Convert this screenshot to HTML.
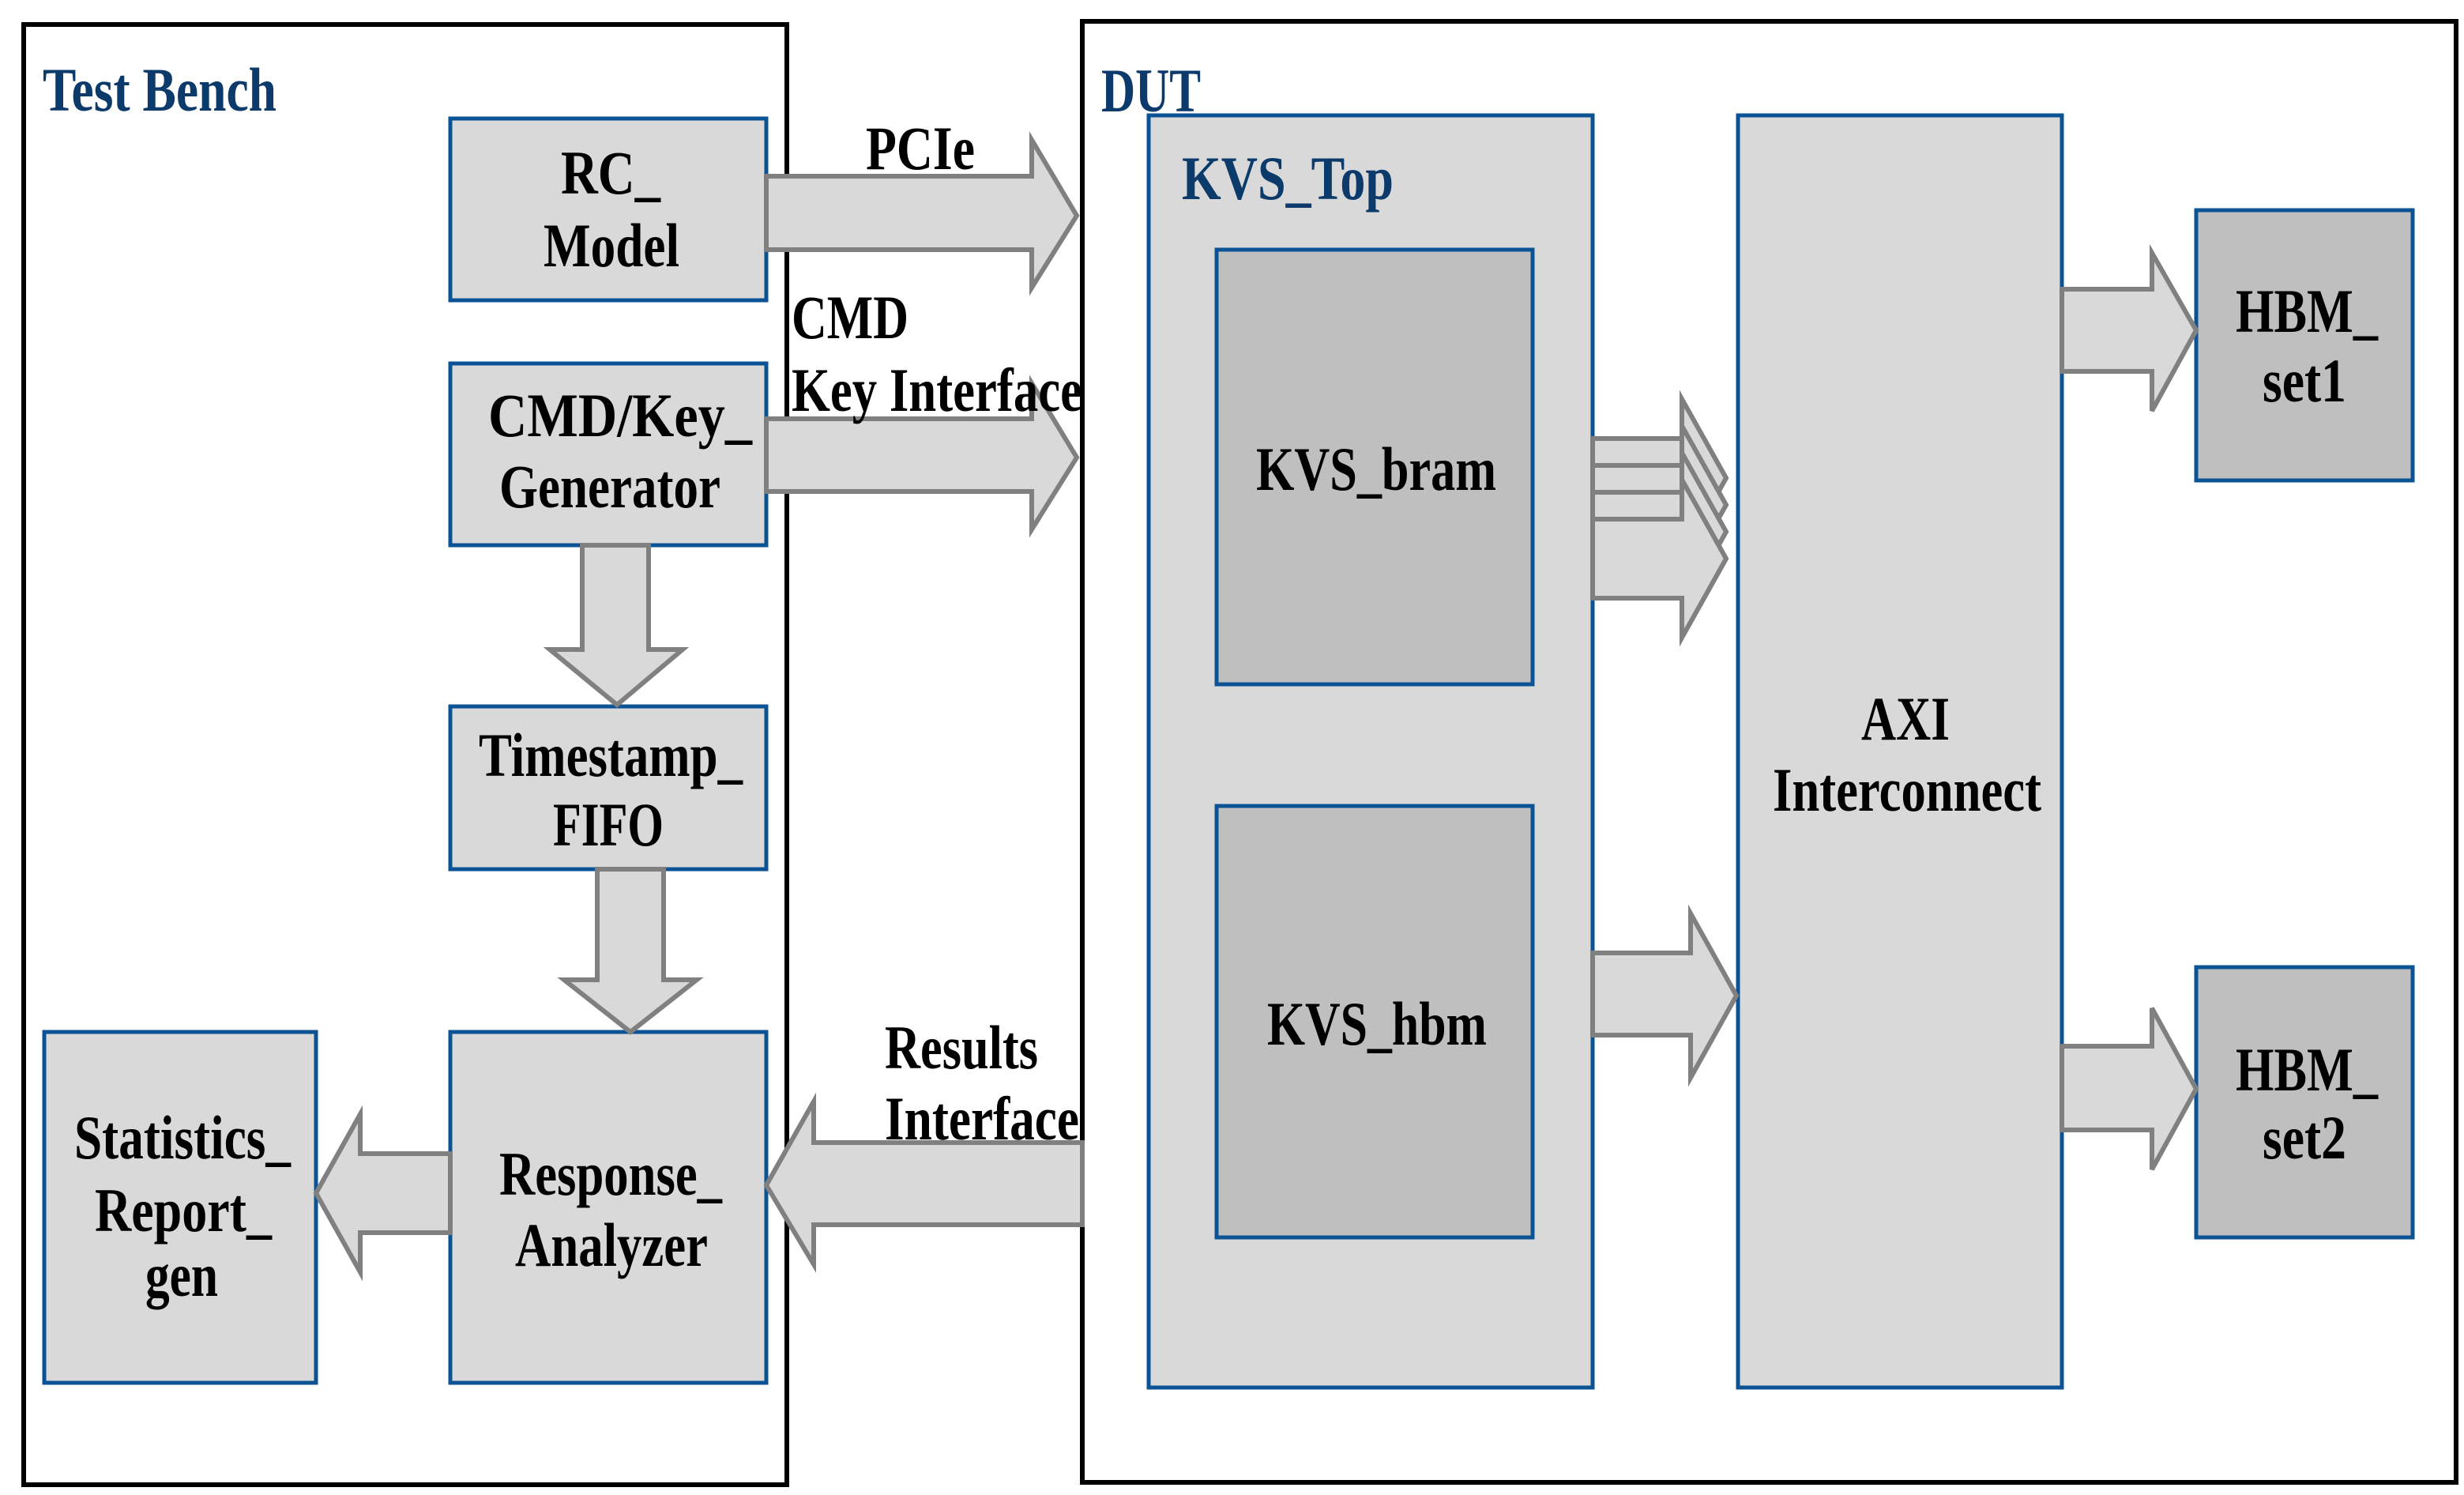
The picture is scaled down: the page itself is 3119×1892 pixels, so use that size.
<!DOCTYPE html>
<html><head><meta charset="utf-8"><style>html,body{margin:0;padding:0;background:#fff}svg{display:block}</style></head>
<body>
<svg width="3119" height="1892" viewBox="0 0 3119 1892" xmlns="http://www.w3.org/2000/svg" font-family="Liberation Serif, serif" font-weight="bold" font-size="78">
<rect x="0" y="0" width="3119" height="1892" fill="#fff"/>
<!-- outer boxes -->
<rect x="30" y="31" width="966" height="1848" fill="none" stroke="#000" stroke-width="6"/>
<rect x="1370" y="27" width="1739" height="1849" fill="none" stroke="#000" stroke-width="6"/>
<g stroke="#0b5394" stroke-width="5">
<rect x="570" y="150" width="400" height="230" fill="#d9d9d9"/>
<rect x="570" y="460" width="400" height="230" fill="#d9d9d9"/>
<rect x="570" y="894" width="400" height="206" fill="#d9d9d9"/>
<rect x="570" y="1306" width="400" height="444" fill="#d9d9d9"/>
<rect x="56" y="1306" width="344" height="444" fill="#d9d9d9"/>
<rect x="1454" y="146" width="562" height="1610" fill="#d9d9d9"/>
<rect x="1540" y="316" width="400" height="550" fill="#bfbfbf"/>
<rect x="1540" y="1020" width="400" height="546" fill="#bfbfbf"/>
<rect x="2200" y="146" width="410" height="1610" fill="#d9d9d9"/>
<rect x="2780" y="266" width="274" height="342" fill="#bfbfbf"/>
<rect x="2780" y="1224" width="274" height="342" fill="#bfbfbf"/>
</g>
<!-- arrows -->
<g fill="#d9d9d9" stroke="#808080" stroke-width="6" stroke-linejoin="miter">
<polygon points="970,223 1306,223 1306,177 1363,273 1306,364 1306,316 970,316"/>
<polygon points="970,530 1306,530 1306,485 1363,579 1306,670 1306,622 970,622"/>
<polygon points="737,690 821,690 821,822 864,822 781,892 696,822 737,822"/>
<polygon points="756,1100 840,1100 840,1240 882,1240 798,1306 714,1240 756,1240"/>
<polygon points="570,1460 456,1460 456,1410 400,1510 456,1610 456,1560 570,1560"/>
<polygon points="1370,1446 1030,1446 1030,1394 970,1500 1030,1600 1030,1550 1370,1550"/>
<polygon points="2016,555 2129,555 2129,505 2185,605 2129,705 2129,655 2016,655"/>
<polygon points="2016,589 2129,589 2129,539 2185,639 2129,739 2129,689 2016,689"/>
<polygon points="2016,623 2129,623 2129,573 2185,673 2129,773 2129,723 2016,723"/>
<polygon points="2016,657 2129,657 2129,607 2185,707 2129,807 2129,757 2016,757"/>
<polygon points="2016,1206 2140,1206 2140,1156 2198,1260 2140,1364 2140,1310 2016,1310"/>
<polygon points="2610,366 2724,366 2724,320 2780,418 2724,520 2724,470 2610,470"/>
<polygon points="2610,1324 2724,1324 2724,1276 2780,1378 2724,1480 2724,1430 2610,1430"/>
</g>
<!-- labels -->
<g fill="#0b3a6b">
<text x="54" y="140" textLength="296" lengthAdjust="spacingAndGlyphs">Test Bench</text>
<text x="1394" y="141" textLength="126" lengthAdjust="spacingAndGlyphs">DUT</text>
<text x="1496" y="252" textLength="268" lengthAdjust="spacingAndGlyphs">KVS_Top</text>
</g>
<g fill="#000">
<text x="710" y="245" textLength="126" lengthAdjust="spacingAndGlyphs">RC_</text>
<text x="688" y="337" textLength="172" lengthAdjust="spacingAndGlyphs">Model</text>
<text x="618" y="552" textLength="334" lengthAdjust="spacingAndGlyphs">CMD/Key_</text>
<text x="632" y="642" textLength="280" lengthAdjust="spacingAndGlyphs">Generator</text>
<text x="606" y="982" textLength="334" lengthAdjust="spacingAndGlyphs">Timestamp_</text>
<text x="700" y="1070" textLength="140" lengthAdjust="spacingAndGlyphs">FIFO</text>
<text x="632" y="1512" textLength="282" lengthAdjust="spacingAndGlyphs">Response_</text>
<text x="652" y="1602" textLength="244" lengthAdjust="spacingAndGlyphs">Analyzer</text>
<text x="94" y="1466" textLength="274" lengthAdjust="spacingAndGlyphs">Statistics_</text>
<text x="120" y="1558" textLength="224" lengthAdjust="spacingAndGlyphs">Report_</text>
<text x="184" y="1640" textLength="92" lengthAdjust="spacingAndGlyphs">gen</text>
<text x="1590" y="620" textLength="304" lengthAdjust="spacingAndGlyphs">KVS_bram</text>
<text x="1604" y="1322" textLength="278" lengthAdjust="spacingAndGlyphs">KVS_hbm</text>
<text x="2356" y="936" textLength="112" lengthAdjust="spacingAndGlyphs">AXI</text>
<text x="2244" y="1026" textLength="340" lengthAdjust="spacingAndGlyphs">Interconnect</text>
<text x="2830" y="420" textLength="180" lengthAdjust="spacingAndGlyphs">HBM_</text>
<text x="2864" y="508" textLength="106" lengthAdjust="spacingAndGlyphs">set1</text>
<text x="2830" y="1380" textLength="180" lengthAdjust="spacingAndGlyphs">HBM_</text>
<text x="2864" y="1466" textLength="106" lengthAdjust="spacingAndGlyphs">set2</text>
<text x="1096" y="214" textLength="138" lengthAdjust="spacingAndGlyphs">PCIe</text>
<text x="1002" y="428" textLength="148" lengthAdjust="spacingAndGlyphs">CMD</text>
<text x="1002" y="520" textLength="368" lengthAdjust="spacingAndGlyphs">Key Interface</text>
<text x="1120" y="1352" textLength="194" lengthAdjust="spacingAndGlyphs">Results</text>
<text x="1120" y="1442" textLength="246" lengthAdjust="spacingAndGlyphs">Interface</text>
</g>
</svg>
</body></html>
